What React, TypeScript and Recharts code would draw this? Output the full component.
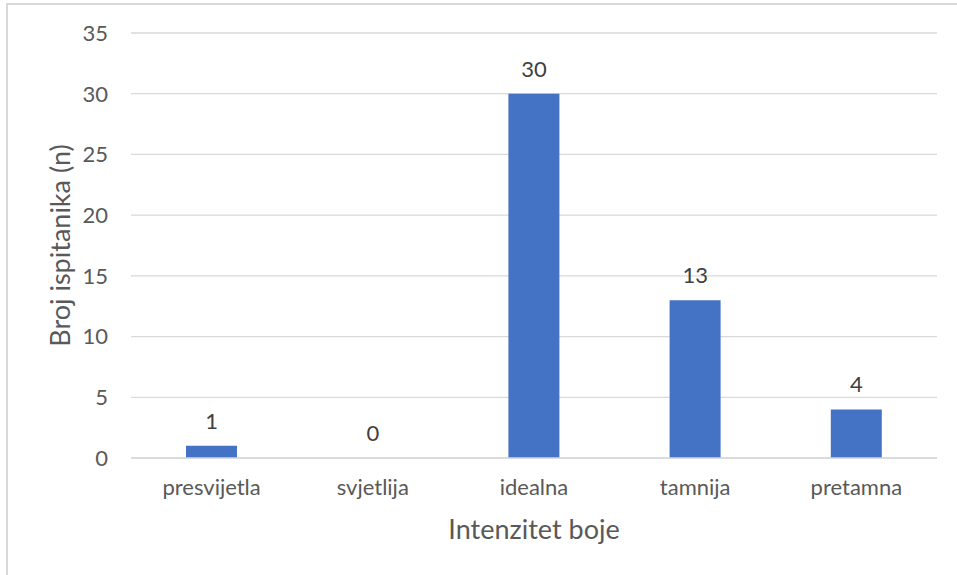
import React from 'react';
import { ComposedChart, Bar, Line, XAxis, YAxis, CartesianGrid, LabelList, Label } from 'recharts';

const categories = ['presvijetla', 'svjetlija', 'idealna', 'tamnija', 'pretamna'];
const counts = [1, 0, 30, 13, 4];
const yTicks = [0, 5, 10, 15, 20, 25, 30, 35];

const data = categories.map((c, i) => ({ name: c, value: counts[i] }));

const FONT = 'Lato, "Noto Sans", sans-serif';
const TXT = '#595959';

const YTitle = (props: any) => {
  const vb = props.viewBox || {};
  const x = vb.x + 59;
  const y = vb.y + vb.height / 2;
  return (
    <text
      x={x}
      y={y}
      transform={`rotate(-90 ${x} ${y})`}
      textAnchor="middle"
      dominantBaseline="central"
      fill={TXT}
      fontSize={27}
      fontFamily={FONT}
    >
      Broj ispitanika (n)
    </text>
  );
};

const XTitle = (props: any) => {
  const vb = props.viewBox || {};
  const x = vb.x + vb.width / 2;
  const y = vb.y + 81;
  return (
    <text x={x} y={y} textAnchor="middle" fill={TXT} fontSize={27} fontFamily={FONT}>
      Intenzitet boje
    </text>
  );
};

export default function App() {
  return (
    <div style={{ position: 'absolute', left: 0, top: 0, width: 957, height: 575, overflow: 'hidden', background: '#fff' }}>
      <div
        style={{
          position: 'absolute',
          left: 6,
          top: 3,
          width: 1200,
          height: 1200,
          borderLeft: '2px solid #d9d9d9',
          borderTop: '2px solid #d9d9d9',
        }}
      />
      <div style={{ position: 'absolute', left: 0, top: 0 }}>
        <ComposedChart
          width={957}
          height={575}
          data={data}
          margin={{ top: 33, right: 20, left: 0, bottom: 0 }}
          barCategoryGap={0}
        >
          <CartesianGrid vertical={false} stroke="#d9d9d9" strokeWidth={1.3} />
          <XAxis
            dataKey="name"
            height={117}
            tickLine={false}
            tickSize={0}
            tickMargin={21}
            axisLine={{ stroke: '#d9d9d9', strokeWidth: 1.3 }}
            tick={{ fill: TXT, fontSize: 22, fontFamily: FONT }}
            interval={0}
          >
            <Label content={<XTitle />} />
          </XAxis>
          <YAxis
            width={131}
            domain={[0, 35]}
            ticks={yTicks}
            axisLine={false}
            tickLine={false}
            tickSize={0}
            tickMargin={23}
            tick={{ fill: TXT, fontSize: 22, fontFamily: FONT }}
          >
            <Label content={<YTitle />} />
          </YAxis>
          <Bar dataKey="value" fill="#4472C4" barSize={51} isAnimationActive={false} />
          <Line
            dataKey="value"
            stroke="none"
            dot={false}
            activeDot={false}
            legendType="none"
            isAnimationActive={false}
          >
            <LabelList
              dataKey="value"
              position="top"
              offset={17}
              fill="#404040"
              fontSize={22}
              fontFamily={FONT}
            />
          </Line>
        </ComposedChart>
      </div>
    </div>
  );
}
